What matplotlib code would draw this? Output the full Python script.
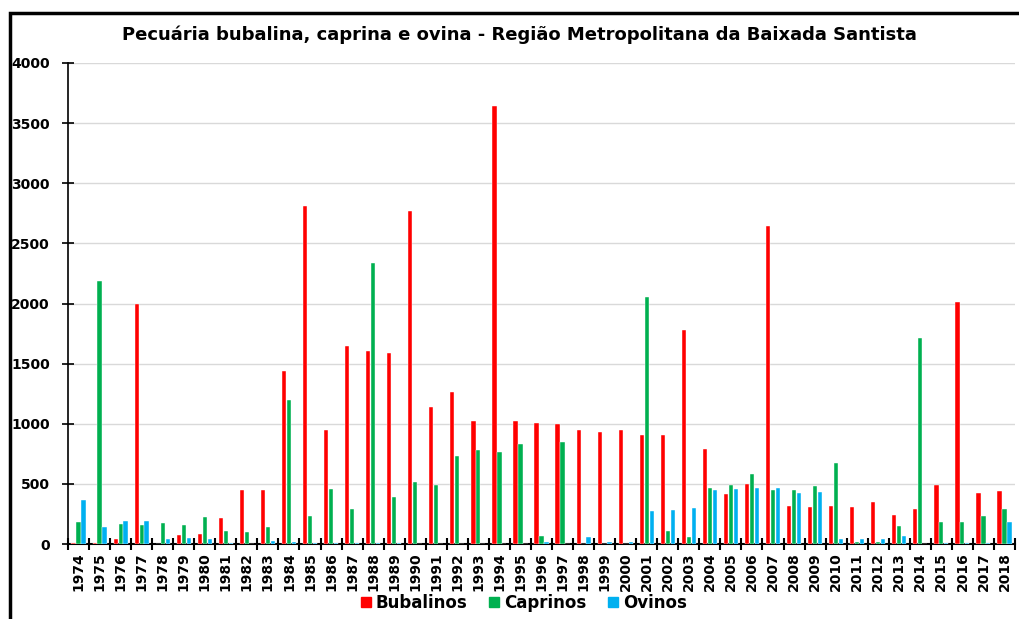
import numpy as np
import matplotlib
matplotlib.use("Agg")
import matplotlib.pyplot as plt
from matplotlib.patches import Rectangle
from matplotlib.lines import Line2D

anos = [str(a) for a in range(1974, 2019)]
bubalinos = [10, 10, 44, 2000, 0, 72, 83, 217, 450, 450, 1436,
             2810, 944, 1650, 1603, 1592, 2770, 1142, 1267, 1022, 3640,
             1022, 1008, 994, 944, 933, 950, 908, 908, 1778, 794,
             417, 503, 2648, 317, 308, 317, 311, 350, 239, 292,
             492, 2014, 428, 444]
caprinos = [183, 2186, 167, 161, 172, 156, 222, 111, 100, 142, 1194,
            231, 456, 294, 2333, 392, 519, 489, 728, 783, 769,
            831, 67, 847, 0, 0, 0, 2056, 106, 61, 464,
            492, 578, 453, 447, 481, 675, 19, 19, 147, 1714,
            181, 181, 236, 292]
ovinos = [367, 142, 194, 194, 44, 50, 44, 8, 0, 22, 17,
          11, 11, 5, 5, 5, 0, 0, 0, 0, 0,
          0, 19, 0, 56, 19, 19, 278, 283, 297, 453,
          458, 467, 467, 428, 431, 39, 39, 39, 64, 2,
          11, 11, 11, 181]

cores = ["#FF0000", "#00B050", "#00B0F0"]
nomes = ["Bubalinos", "Caprinos", "Ovinos"]

fig = plt.figure(figsize=(10.19, 6.19), dpi=100)
ax = fig.add_axes([68 / 1019, 1 - 544 / 619, (1015 - 68) / 1019, (544 - 63) / 619])

x = np.arange(len(anos))
w = 0.2
for i, serie in enumerate([bubalinos, caprinos, ovinos]):
    ax.bar(x + (i - 1) * 0.235, serie, width=w, color=cores[i],
           edgecolor="white", linewidth=0.3, zorder=3)

ax.set_xlim(-0.5, len(anos) - 0.5)
ax.set_ylim(0, 4000)
ax.set_yticks(range(0, 4001, 500))
ax.set_yticklabels([str(v) for v in range(0, 4001, 500)], fontweight="bold", fontsize=10)
ax.yaxis.grid(True, color="#D9D9D9", linewidth=1, zorder=0)
ax.tick_params(axis="y", direction="inout", length=8, width=1.2, pad=9)

# ticks between categories
ax.set_xticks(np.arange(-0.5, len(anos), 1))
ax.set_xticklabels([])
ax.set_xticks(x, minor=True)
ax.set_xticklabels(anos, minor=True, rotation=90, fontweight="bold", fontsize=10)
ax.tick_params(axis="x", which="major", direction="inout", length=8, width=1.5)
ax.tick_params(axis="x", which="minor", length=0, pad=6)

for s in ["top", "right"]:
    ax.spines[s].set_visible(False)
ax.spines["left"].set_linewidth(1.2)
ax.spines["bottom"].set_linewidth(1.5)

fig.text(0.51, 1 - 35 / 619, "Pecuária bubalina, caprina e ovina - Região Metropolitana da Baixada Santista",
         ha="center", va="center", fontsize=13, fontweight="bold")

handles = [Line2D([], [], marker="s", linestyle="", color=c, markersize=7) for c in cores]
fig.legend(handles, nomes, loc="center", bbox_to_anchor=(0.514, 1 - 603 / 619), ncol=3,
           frameon=False, prop={"weight": "bold", "size": 12}, handlelength=0.6,
           handletextpad=0.3, columnspacing=1.3)

fig.add_artist(Rectangle((9.5 / 1019, -0.1), 1.2, 1 - 13.5 / 619 + 0.1,
                         transform=fig.transFigure, fill=False, edgecolor="black",
                         linewidth=2.5))

fig.savefig("out.png", dpi=100)
